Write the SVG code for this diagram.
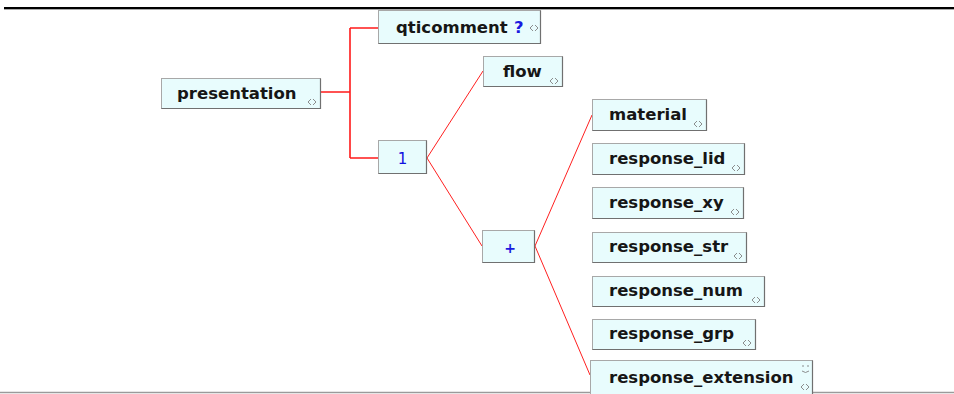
<svg xmlns="http://www.w3.org/2000/svg" width="954" height="394" viewBox="0 0 954 394">
<defs>
<style>
.box{fill:#e8fcfd;stroke:#a8a8a8;stroke-width:1}
.sh{fill:none;stroke:#707070;stroke-width:1.2}
.lbl{font-family:"DejaVu Sans",Verdana,sans-serif;font-weight:bold;font-size:16.5px;fill:#161616}
.op{font-family:"DejaVu Sans",Verdana,sans-serif;font-size:15px;fill:#1010e0}
.ic{fill:none;stroke:#808080;stroke-width:0.9}
.c1{fill:none;stroke:#ff1a1a;stroke-width:1.6}
.c2{fill:none;stroke:#ff2020;stroke-width:1}
</style>
<g id="icon"><path class="ic" d="M0,3 L3,0 M0,3 L3,6 M8,3 L5,0 M8,3 L5,6"/></g>
</defs>
<rect x="0" y="0" width="954" height="394" fill="#ffffff"/>
<line x1="4" y1="8" x2="954" y2="8" stroke="#000" stroke-width="2"/>
<line x1="4" y1="9.5" x2="954" y2="9.5" stroke="#aaa" stroke-width="1"/>
<line x1="0" y1="392.5" x2="954" y2="392.5" stroke="#9a9a9a" stroke-width="1.5"/>

<g id="connectors">
<path class="c1" d="M321,92 H350 M350,28 V158 M350,28 H378 M350,158 H378"/>
<path class="c2" d="M427,158 L483,71 M427,158 L482,246 M535,246 L592,115 M535,246 L590,375"/>
</g>

<g id="n-presentation">
<rect class="box" x="161.5" y="78.5" width="159" height="30"/>
<path class="sh" d="M161.5,108.5 H320.5 V78.5"/>
<text class="lbl" x="177" y="99">presentation</text>
<use href="#icon" x="308" y="99"/>
</g>
<g id="n-qticomment">
<rect class="box" x="378.5" y="10.5" width="162" height="33"/>
<path class="sh" d="M378.5,43.5 H540.5 V10.5"/>
<text class="lbl" x="396" y="33">qticomment</text>
<text class="lbl" x="514" y="33" style="fill:#1a1ae0">?</text>
<use href="#icon" x="530" y="25"/>
</g>
<g id="n-seq1">
<rect class="box" x="378.5" y="140.5" width="48" height="33"/>
<path class="sh" d="M378.5,173.5 H426.5 V140.5"/>
<text class="op" x="402.5" y="164" text-anchor="middle">1</text>
</g>
<g id="n-flow">
<rect class="box" x="483.5" y="56.5" width="79" height="30"/>
<path class="sh" d="M483.5,86.5 H562.5 V56.5"/>
<text class="lbl" x="503" y="77">flow</text>
<use href="#icon" x="550" y="78"/>
</g>
<g id="n-plus">
<rect class="box" x="482.5" y="230.5" width="52" height="32"/>
<path class="sh" d="M482.5,262.5 H534.5 V230.5"/>
<text class="lbl" x="510" y="253" text-anchor="middle" style="fill:#1a1ae0;font-size:14px">+</text>
</g>
<g id="n-material">
<rect class="box" x="592.5" y="99.5" width="114" height="31"/>
<path class="sh" d="M592.5,130.5 H706.5 V99.5"/>
<text class="lbl" x="609" y="120">material</text>
<use href="#icon" x="694" y="121"/>
</g>
<g id="n-response_lid">
<rect class="box" x="592.5" y="143.5" width="152" height="31"/>
<path class="sh" d="M592.5,174.5 H744.5 V143.5"/>
<text class="lbl" x="609" y="164">response_lid</text>
<use href="#icon" x="732" y="165"/>
</g>
<g id="n-response_xy">
<rect class="box" x="592.5" y="187.5" width="151" height="31"/>
<path class="sh" d="M592.5,218.5 H743.5 V187.5"/>
<text class="lbl" x="609" y="208">response_xy</text>
<use href="#icon" x="731" y="209"/>
</g>
<g id="n-response_str">
<rect class="box" x="592.5" y="232.5" width="154" height="30"/>
<path class="sh" d="M592.5,262.5 H746.5 V232.5"/>
<text class="lbl" x="609" y="252">response_str</text>
<use href="#icon" x="734" y="253"/>
</g>
<g id="n-response_num">
<rect class="box" x="592.5" y="276.5" width="172" height="30"/>
<path class="sh" d="M592.5,306.5 H764.5 V276.5"/>
<text class="lbl" x="609" y="296">response_num</text>
<use href="#icon" x="752" y="297"/>
</g>
<g id="n-response_grp">
<rect class="box" x="592.5" y="319.5" width="163" height="30"/>
<path class="sh" d="M592.5,349.5 H755.5 V319.5"/>
<text class="lbl" x="609" y="339">response_grp</text>
<use href="#icon" x="743" y="340"/>
</g>
<g id="n-response_extension">
<rect class="box" x="590.5" y="360.5" width="222" height="36"/>
<path class="sh" d="M812.5,396 V360.5"/>
<text class="lbl" x="609" y="383">response_extension</text>
<path class="ic" d="M803,365 v2 M808,365 v2 M802,371 q3.5,3 7,0"/>
<use href="#icon" x="801" y="384"/>
</g>
</svg>
